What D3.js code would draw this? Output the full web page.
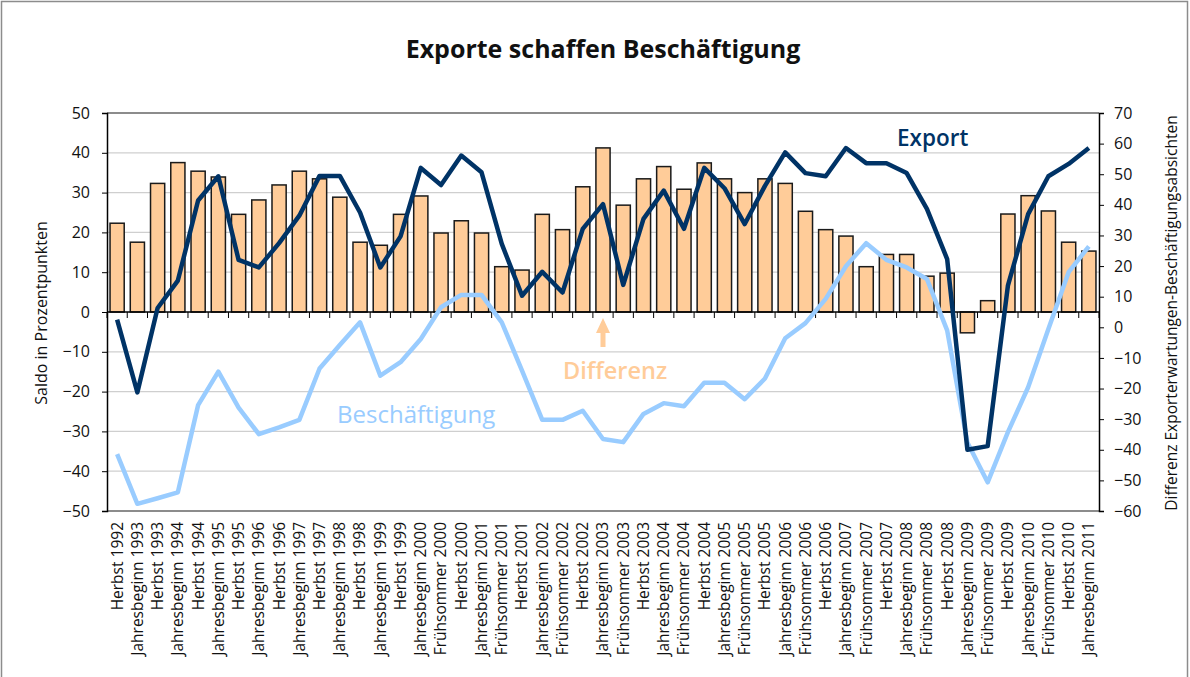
<!DOCTYPE html>
<html>
<head>
<meta charset="utf-8">
<script src="https://cdn.jsdelivr.net/npm/d3@7"></script>
<style>
  body { margin: 0; background: #fff; }
  svg { font-family: "Open Sans", "Noto Sans", sans-serif; }
</style>
</head>
<body>
<svg id="chart" width="1190" height="677"></svg>
<script>
// Kategorien (Umfragezeitpunkte)
var periods = ["Herbst 1992","Jahresbeginn 1993","Herbst 1993","Jahresbeginn 1994","Herbst 1994",
  "Jahresbeginn 1995","Herbst 1995","Jahresbeginn 1996","Herbst 1996","Jahresbeginn 1997",
  "Herbst 1997","Jahresbeginn 1998","Herbst 1998","Jahresbeginn 1999","Herbst 1999",
  "Jahresbeginn 2000","Frühsommer 2000","Herbst 2000","Jahresbeginn 2001","Frühsommer 2001",
  "Herbst 2001","Jahresbeginn 2002","Frühsommer 2002","Herbst 2002","Jahresbeginn 2003",
  "Frühsommer 2003","Herbst 2003","Jahresbeginn 2004","Frühsommer 2004","Herbst 2004",
  "Jahresbeginn 2005","Frühsommer 2005","Herbst 2005","Jahresbeginn 2006","Frühsommer 2006",
  "Herbst 2006","Jahresbeginn 2007","Frühsommer 2007","Herbst 2007","Jahresbeginn 2008",
  "Frühsommer 2008","Herbst 2008","Jahresbeginn 2009","Frühsommer 2009","Herbst 2009",
  "Jahresbeginn 2010","Frühsommer 2010","Herbst 2010","Jahresbeginn 2011"];

// Exporterwartungen, Saldo (linke Achse)
var exportSaldo = [-1.9,-20.2,1,7.9,28.0,34.1,13.1,11.2,17.3,24.2,
  34.2,34.2,25.0,11.2,19,36.2,31.9,39.3,35.1,17.1,
  4.1,10.1,4.9,20.9,27.1,6.8,23.4,30.5,20.9,36.2,
  31.1,22.1,31.7,40.1,34.9,34.1,41.2,37.4,37.4,34.9,
  25.9,13.3,-34.6,-33.7,6.6,24.6,34.1,37.2,41.2];

// Beschäftigungsabsichten, Saldo (linke Achse)
var jobsSaldo = [-35.7,-48.2,-46.8,-45.3,-23.4,-15.0,-24.0,-30.7,-29.0,-27.1,
  -14.2,-8.3,-2.6,-16.0,-12.6,-6.8,1.2,4.3,4.3,-2.6,
  -14.7,-27.1,-27.1,-24.8,-31.9,-32.7,-25.6,-22.9,-23.7,-17.8,
  -17.8,-21.9,-16.7,-6.6,-2.8,3.3,11.5,17.3,13.1,11.2,
  8.3,-4.6,-32.8,-42.8,-30.2,-18.9,-4.3,10.0,16.5];

// Differenz (rechte Achse)
var diffValues = [34.0,27.8,47.0,53.8,51.0,49.1,36.9,41.6,46.5,51.0,
  48.5,42.5,27.8,26.8,36.9,42.9,30.8,34.8,30.8,19.8,
  18.7,36.9,31.9,45.9,58.6,39.9,48.5,52.5,45.1,53.7,
  48.5,44.0,48.5,47.0,37.9,31.9,29.8,19.8,23.8,23.8,
  16.7,17.7,-1.8,8.7,37.0,43.0,38.0,27.8,24.9];

var leftTicks = [-50,-40,-30,-20,-10,0,10,20,30,40,50];
var rightTicks = [-60,-50,-40,-30,-20,-10,0,10,20,30,40,50,60,70];

var svg = d3.select("#chart");
var plotL = 107, plotR = 1099, plotT = 113, plotB = 511;

// Rahmen
svg.append("rect").attr("x",1.5).attr("y",1.5).attr("width",1186).attr("height",700)
  .attr("fill","none").attr("stroke","#8c8c8c").attr("stroke-width",1.5);

var x = d3.scaleBand().domain(periods).range([plotL,plotR]).paddingInner(0.3).paddingOuter(0.15);
var yL = d3.scaleLinear().domain([-50,50]).range([plotB,plotT]);
var yR = d3.scaleLinear().domain([-60,70]).range([plotB,plotT]);
var cx = function(p){ return x(p) + x.bandwidth()/2; };

// Gitternetz
svg.append("g").selectAll("line").data(leftTicks.filter(function(t){ return t!=0; }))
  .enter().append("line")
  .attr("x1",plotL).attr("x2",plotR)
  .attr("y1",function(d){ return yL(d); }).attr("y2",function(d){ return yL(d); })
  .attr("stroke",function(d){ return (d==50||d==-50) ? "#8c8c8c" : "#cfcfcf"; })
  .attr("stroke-width",function(d){ return (d==50||d==-50) ? 2 : 1.2; });

// Balken Differenz
svg.append("g").selectAll("rect").data(diffValues).enter().append("rect")
  .attr("x",function(d,i){ return x(periods[i]); })
  .attr("width",x.bandwidth())
  .attr("y",function(d){ return Math.min(yR(d), yL(0)); })
  .attr("height",function(d){ return Math.abs(yL(0) - yR(d)); })
  .attr("fill","#ffcc99").attr("stroke","#1a1a1a").attr("stroke-width",1.5);

// x-Achse bei 0
var xAxis = svg.append("g").attr("transform","translate(0,"+yL(0)+")");
xAxis.append("line").attr("x1",plotL).attr("x2",plotR).attr("stroke","#000").attr("stroke-width",1.5);
xAxis.selectAll(".tk").data(d3.range(periods.length+1)).enter().append("line")
  .attr("x1",function(i){ return plotL + i*x.step(); }).attr("x2",function(i){ return plotL + i*x.step(); })
  .attr("y1",0).attr("y2",6).attr("stroke","#000").attr("stroke-width",1);

// Linien
var lineL = d3.line().x(function(d,i){ return cx(periods[i]); }).y(function(d){ return yL(d); });
svg.append("path").datum(jobsSaldo).attr("d",lineL)
  .attr("fill","none").attr("stroke","#99ccff").attr("stroke-width",4.5).attr("stroke-linejoin","round");
svg.append("path").datum(exportSaldo).attr("d",lineL)
  .attr("fill","none").attr("stroke","#003366").attr("stroke-width",4.5).attr("stroke-linejoin","round");

// Achsen
var gl = svg.append("g").attr("transform","translate("+plotL+",0)")
  .call(d3.axisLeft(yL).tickValues(leftTicks).tickSize(5).tickPadding(12).tickFormat(d3.format("d")));
var gr = svg.append("g").attr("transform","translate("+plotR+",0)")
  .call(d3.axisRight(yR).tickValues(rightTicks).tickSize(5).tickPadding(10).tickFormat(d3.format("d")));
[gl,gr].forEach(function(g){
  g.select(".domain").attr("stroke","#000").attr("stroke-width",1.5);
  g.selectAll(".tick line").attr("stroke","#000");
  g.selectAll(".tick text").attr("font-size",16).attr("fill","#111")
    .attr("font-family","'Open Sans', sans-serif");
});

// Kategorienbeschriftung
svg.append("g").selectAll("text").data(periods).enter().append("text")
  .attr("transform",function(d){ return "translate("+cx(d)+",522) rotate(-90)"; })
  .attr("text-anchor","end").attr("dy","0.35em")
  .attr("font-size",15.5).attr("fill","#111")
  .text(function(d){ return d; });

// Titel
svg.append("text").attr("x",603).attr("y",58).attr("text-anchor","middle")
  .attr("font-size",25).attr("font-weight","bold").attr("fill","#111")
  .text("Exporte schaffen Beschäftigung");

// Achsentitel
svg.append("text").attr("transform","translate(47,313) rotate(-90)").attr("text-anchor","middle")
  .attr("font-size",16).attr("fill","#111").text("Saldo in Prozentpunkten");
svg.append("text").attr("transform","translate(1177,313) rotate(-90)").attr("text-anchor","middle")
  .attr("font-size",15.5).attr("fill","#111").text("Differenz Exporterwartungen-Beschäftigungsabsichten");

// Beschriftungen im Diagramm
svg.append("text").attr("x",897).attr("y",146).attr("font-size",22.5).attr("font-weight",600)
  .attr("fill","#003366").text("Export");
svg.append("text").attr("x",337).attr("y",423).attr("font-size",24).attr("font-weight",500)
  .attr("fill","#99ccff").text("Beschäftigung");
svg.append("text").attr("x",563).attr("y",379).attr("font-size",23.5).attr("font-weight",600)
  .attr("fill","#ffcc99").text("Differenz");

// Pfeil zur Differenz
var ax = cx("Jahresbeginn 2003");
svg.append("path")
  .attr("d", d3.line()([[ax,318],[ax+7,333],[ax+2.5,333],[ax+2.5,347],[ax-2.5,347],[ax-2.5,333],[ax-7,333]]) + "Z")
  .attr("fill","#ffcc99");
</script>
</body>
</html>
